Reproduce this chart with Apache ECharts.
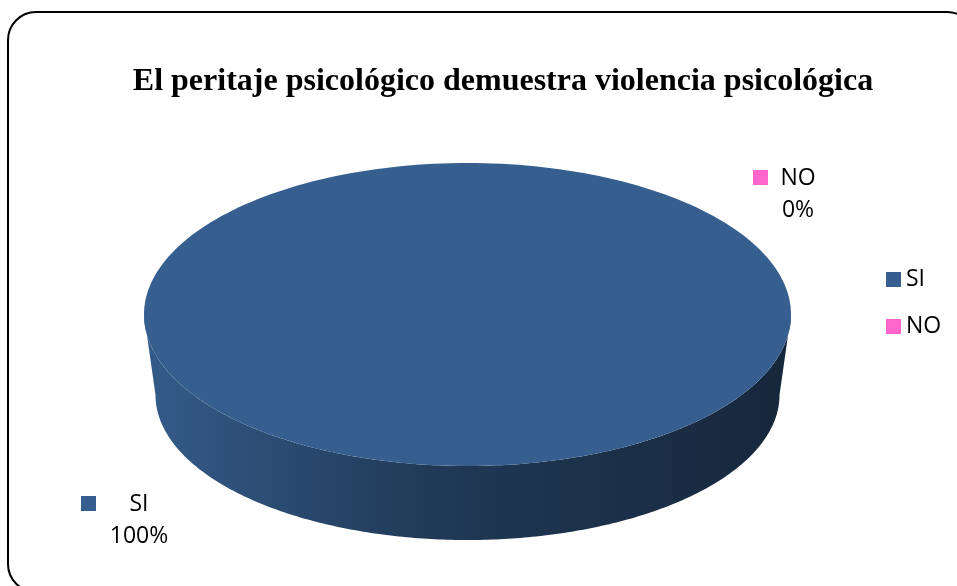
<!DOCTYPE html>
<html><head><meta charset="utf-8">
<script src="https://cdn.jsdelivr.net/npm/echarts@6/dist/echarts.min.js"></script>
<style>html,body{margin:0;padding:0;background:#fff}#c{width:957px;height:586px}</style>
</head><body><div id="c"></div>
<script>
const categories = ['SI', 'NO'];
const values = [100, 0];
const colors = ['#365f8f', '#ff66cc'];
const titleText = 'El peritaje psicológico demuestra violencia psicológica';

const total = values.reduce((a, b) => a + b, 0);
// layout of the tilted pie (top ellipse and slightly smaller bottom ellipse)
const G = {cx: 467.5, cy: 314.5, rx: 323.5, ry: 151.5, bcx: 467.5, bcy: 395, brx: 312, bry: 145};
const labelPos = [{x: 139, y: 488, kx: 81, ky: 496}, {x: 798, y: 162, kx: 753, ky: 170}];

function pt(th, cx, cy, rx, ry) { return [cx + rx * Math.sin(th), cy - ry * Math.cos(th)]; }
function shade(hex, f) {
  const n = parseInt(hex.slice(1), 16);
  const r = Math.round(((n >> 16) & 255) * f), g = Math.round(((n >> 8) & 255) * f), b = Math.round((n & 255) * f);
  return 'rgb(' + r + ',' + g + ',' + b + ')';
}

function makeRender(idx) {
  return function (params, api) {
    const before = values.slice(0, idx).reduce((a, b) => a + b, 0);
    const a0 = before / total * 2 * Math.PI;
    const a1 = (before + values[idx]) / total * 2 * Math.PI;
    const children = [];
    const N = 240;
    if (a1 > a0) {
      const s = Math.max(a0, Math.PI / 2), e = Math.min(a1, 3 * Math.PI / 2);
      if (e > s) {
        const pts = [];
        for (let i = 0; i <= N; i++) { const t = s + (e - s) * i / N; pts.push(pt(t, G.cx, G.cy, G.rx, G.ry)); }
        for (let i = N; i >= 0; i--) { const t = s + (e - s) * i / N; pts.push(pt(t, G.bcx, G.bcy, G.brx, G.bry)); }
        children.push({
          type: 'polygon', shape: {points: pts},
          style: {fill: new echarts.graphic.LinearGradient(0, 0, 1, 0, [
            {offset: 0, color: shade(colors[idx], 0.96)},
            {offset: 0.45, color: shade(colors[idx], 0.60)},
            {offset: 1, color: shade(colors[idx], 0.41)}
          ])}
        });
      }
      const tp = [];
      const full = (a1 - a0) >= 2 * Math.PI - 1e-9;
      if (!full) tp.push([G.cx, G.cy]);
      for (let i = 0; i <= N; i++) { const t = a0 + (a1 - a0) * i / N; tp.push(pt(t, G.cx, G.cy, G.rx, G.ry)); }
      children.push({type: 'polygon', shape: {points: tp}, style: {fill: colors[idx]}});
    }
    const lp = labelPos[idx];
    children.push({type: 'rect', shape: {x: lp.kx, y: lp.ky, width: 15, height: 15}, style: {fill: colors[idx]}});
    children.push({
      type: 'text', x: lp.x, y: lp.y,
      style: {
        text: categories[idx] + '\n' + Math.round(values[idx] / total * 100) + '%',
        fill: '#000', fontFamily: 'Open Sans', fontSize: 23, lineHeight: 32,
        align: 'center', verticalAlign: 'top'
      }
    });
    return {type: 'group', children: children};
  };
}

const chart = echarts.init(document.getElementById('c'), null, {renderer: 'canvas'});
chart.setOption({
  animation: false,
  backgroundColor: '#fff',
  title: {
    text: titleText, left: 498, top: 61, textAlign: 'center',
    textStyle: {fontFamily: 'Liberation Serif', fontWeight: 'bold', fontSize: 32, color: '#000'}
  },
  legend: {
    data: categories, orient: 'vertical', left: 881, top: 263,
    icon: 'rect', itemWidth: 15, itemHeight: 15, itemGap: 24,
    textStyle: {fontFamily: 'Open Sans', fontSize: 23, color: '#000'}
  },
  graphic: [{
    type: 'rect', shape: {x: 8, y: 12, width: 967, height: 580, r: 28},
    style: {fill: 'none', stroke: '#000', lineWidth: 2}, silent: true
  }],
  series: categories.map((c, i) => ({
    type: 'custom', name: c, coordinateSystem: 'none',
    itemStyle: {color: colors[i]},
    data: [values[i]],
    renderItem: makeRender(i)
  }))
});
</script></body></html>
